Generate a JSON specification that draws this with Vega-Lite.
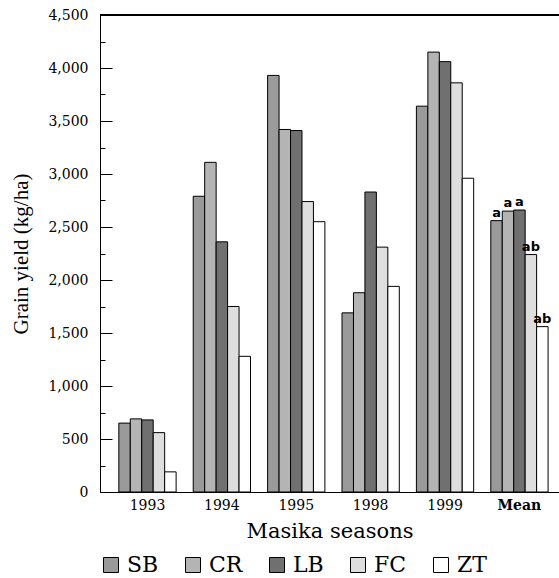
{
  "$schema": "https://vega.github.io/schema/vega-lite/v6.json",
  "width": 459,
  "height": 477,
  "autosize": {"type": "none"},
  "padding": {"left": 100, "top": 15, "right": 0, "bottom": 86},
  "background": "white",
  "config": {
    "view": {"stroke": null},
    "font": "DejaVu Serif",
    "axis": {"grid": false, "domainColor": "black", "tickColor": "black", "labelColor": "black", "titleColor": "black"}
  },
  "data": {
    "values": [
      {"season": "1993", "treatment": "SB", "yield": 650, "sig": ""},
      {"season": "1993", "treatment": "CR", "yield": 690, "sig": ""},
      {"season": "1993", "treatment": "LB", "yield": 680, "sig": ""},
      {"season": "1993", "treatment": "FC", "yield": 560, "sig": ""},
      {"season": "1993", "treatment": "ZT", "yield": 190, "sig": ""},
      {"season": "1994", "treatment": "SB", "yield": 2790, "sig": ""},
      {"season": "1994", "treatment": "CR", "yield": 3110, "sig": ""},
      {"season": "1994", "treatment": "LB", "yield": 2360, "sig": ""},
      {"season": "1994", "treatment": "FC", "yield": 1750, "sig": ""},
      {"season": "1994", "treatment": "ZT", "yield": 1280, "sig": ""},
      {"season": "1995", "treatment": "SB", "yield": 3930, "sig": ""},
      {"season": "1995", "treatment": "CR", "yield": 3420, "sig": ""},
      {"season": "1995", "treatment": "LB", "yield": 3410, "sig": ""},
      {"season": "1995", "treatment": "FC", "yield": 2740, "sig": ""},
      {"season": "1995", "treatment": "ZT", "yield": 2550, "sig": ""},
      {"season": "1998", "treatment": "SB", "yield": 1690, "sig": ""},
      {"season": "1998", "treatment": "CR", "yield": 1880, "sig": ""},
      {"season": "1998", "treatment": "LB", "yield": 2830, "sig": ""},
      {"season": "1998", "treatment": "FC", "yield": 2310, "sig": ""},
      {"season": "1998", "treatment": "ZT", "yield": 1940, "sig": ""},
      {"season": "1999", "treatment": "SB", "yield": 3640, "sig": ""},
      {"season": "1999", "treatment": "CR", "yield": 4150, "sig": ""},
      {"season": "1999", "treatment": "LB", "yield": 4060, "sig": ""},
      {"season": "1999", "treatment": "FC", "yield": 3860, "sig": ""},
      {"season": "1999", "treatment": "ZT", "yield": 2960, "sig": ""},
      {"season": "Mean", "treatment": "SB", "yield": 2560, "sig": "a"},
      {"season": "Mean", "treatment": "CR", "yield": 2650, "sig": "a"},
      {"season": "Mean", "treatment": "LB", "yield": 2660, "sig": "a"},
      {"season": "Mean", "treatment": "FC", "yield": 2240, "sig": "ab"},
      {"season": "Mean", "treatment": "ZT", "yield": 1560, "sig": "ab"}
    ]
  },
  "encoding": {
    "x": {
      "field": "season", "type": "nominal",
      "sort": ["1993", "1994", "1995", "1998", "1999", "Mean"],
      "scale": {"paddingInner": 0.23, "paddingOuter": 0.2, "align": 0.633},
      "axis": {
        "title": "Masika seasons", "labelAngle": 0, "ticks": false, "labelPadding": 6,
        "labelFont": "DejaVu Serif", "labelFontSize": 14,
        "labelFontWeight": {"condition": {"test": "datum.value === 'Mean'", "value": "bold"}, "value": "normal"},
        "titleFont": "DejaVu Serif", "titleFontSize": 21, "titleFontWeight": "normal", "titlePadding": 8
      }
    },
    "xOffset": {
      "field": "treatment", "type": "nominal",
      "sort": ["SB", "CR", "LB", "FC", "ZT"],
      "scale": {"paddingInner": 0, "paddingOuter": 0}
    },
    "y": {
      "field": "yield", "type": "quantitative",
      "scale": {"domain": [0, 4500], "nice": false},
      "axis": {
        "title": "Grain yield (kg/ha)",
        "values": [0, 250, 500, 750, 1000, 1250, 1500, 1750, 2000, 2250, 2500, 2750, 3000, 3250, 3500, 3750, 4000, 4250, 4500],
        "labelExpr": "datum.value % 500 === 0 ? format(datum.value, ',') : ''",
        "tickSize": -12,
        "tickDash": {"condition": {"test": "datum.value % 500 === 0", "value": [12, 0]}, "value": [5, 20]},
        "labelPadding": 24,
        "labelFont": "DejaVu Serif", "labelFontSize": 14,
        "titleFont": "Liberation Serif", "titleFontSize": 21, "titleFontWeight": "normal", "titlePadding": 16
      }
    }
  },
  "layer": [
    {
      "mark": {"type": "bar", "stroke": "black", "strokeWidth": 1},
      "encoding": {
        "color": {
          "field": "treatment", "type": "nominal",
          "scale": {"domain": ["SB", "CR", "LB", "FC", "ZT"], "range": ["#9a9a9a", "#b4b4b4", "#707070", "#dedede", "#ffffff"]},
          "legend": {
            "orient": "bottom", "direction": "horizontal", "title": null,
            "symbolType": "square", "symbolSize": 225, "symbolStrokeColor": "black", "symbolStrokeWidth": 1,
            "labelFont": "DejaVu Serif", "labelFontSize": 22, "labelColor": "black", "labelOffset": 5,
            "columnPadding": 23, "offset": 13
          }
        }
      }
    },
    {
      "transform": [{"filter": "datum.sig != ''"}],
      "mark": {"type": "text", "dy": -8, "font": "DejaVu Sans", "fontWeight": "bold", "fontSize": 13, "color": "black"},
      "encoding": {"text": {"field": "sig"}}
    },
    {
      "mark": {"type": "rule", "color": "black", "strokeWidth": 1},
      "encoding": {"y": {"datum": 4500}, "x": null, "xOffset": null}
    }
  ]
}
